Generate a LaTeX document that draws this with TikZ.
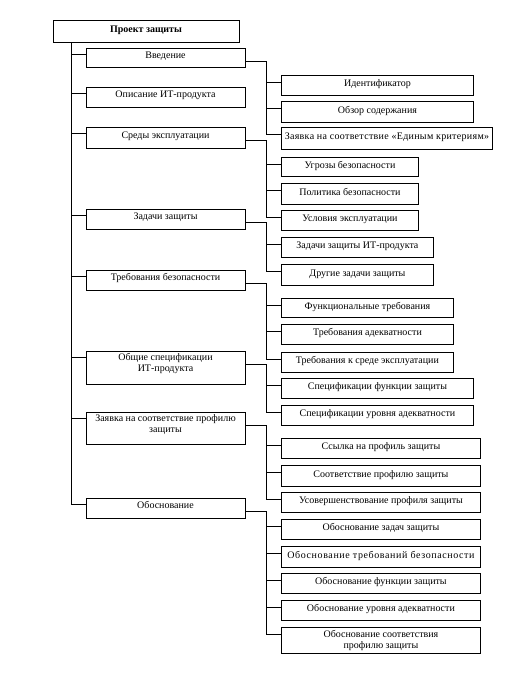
\documentclass[tikz,border=0pt]{standalone}
\usepackage{fontspec}
\setmainfont{Liberation Serif}
\usetikzlibrary{calc}
\tikzset{
  box/.style={draw, line width=0.9pt, inner sep=0pt, align=center,
    font=\fontsize{10}{11}\selectfont, text height=7pt},
  topbox/.style={box, font=\fontsize{10}{11}\selectfont\bfseries, text depth=4pt},
  lone/.style={box, minimum width=159pt, text depth=6pt},
  ltwo/.style={box, anchor=north west, text depth=4pt},
  twoline/.style={text height=18pt},
  wire/.style={line width=0.7pt}
}
\begin{document}
\begin{tikzpicture}[x=1pt,y=-1pt]
\useasboundingbox (0,0) rectangle (511,680);
% root
\node[topbox, minimum width=186pt, minimum height=22pt] (top) at (146,31) {Проект защиты};
% level 1
\node[lone, minimum height=19pt] (intro) at (165.5,57.5) {Введение};
\node[lone, minimum height=20pt] (desc) at (165.5,97) {Описание ИТ-продукта};
\node[lone, minimum height=21pt] (env) at (165.5,137.5) {Среды эксплуатации};
\node[lone, minimum height=20pt] (obj) at (165.5,219) {Задачи защиты};
\node[lone, minimum height=20pt] (req) at (165.5,280) {Требования безопасности};
\node[lone, twoline, minimum height=33pt, text depth=10pt] (spec) at (165.5,367.5) {Общие спецификации\\ИТ-продукта};
\node[lone, twoline, minimum height=32pt, text depth=9pt] (claim) at (165.5,428) {Заявка на соответствие профилю\\защиты};
\node[lone, minimum height=20pt] (just) at (165.5,508) {Обоснование};
% level 2
\node[ltwo, minimum width=192pt, minimum height=20pt] (c1) at (281,75) {Идентификатор};
\node[ltwo, minimum width=192pt, minimum height=21pt] (c2) at (281,101) {Обзор содержания};
\node[ltwo, minimum width=211pt, minimum height=22pt] (c3) at (281,127) {\addfontfeature{LetterSpace=3}Заявка на соответствие «Единым критериям»};
\node[ltwo, minimum width=137pt, minimum height=19pt] (c4) at (281,157) {Угрозы безопасности};
\node[ltwo, minimum width=137pt, minimum height=21pt] (c5) at (281,183) {Политика безопасности};
\node[ltwo, minimum width=137pt, minimum height=20pt] (c6) at (281,210) {Условия эксплуатации};
\node[ltwo, minimum width=152pt, minimum height=20pt] (c7) at (281,237) {Задачи защиты ИТ-продукта};
\node[ltwo, minimum width=152pt, minimum height=21pt] (c8) at (281,264) {Другие задачи защиты};
\node[ltwo, minimum width=172pt, minimum height=19pt] (c9) at (281,298) {Функциональные требования};
\node[ltwo, minimum width=172pt, minimum height=20pt] (c10) at (281,324) {Требования адекватности};
\node[ltwo, minimum width=172pt, minimum height=20pt] (c11) at (281,352) {Требования к среде эксплуатации};
\node[ltwo, minimum width=192pt, minimum height=20pt] (c12) at (281,378) {Спецификации функции защиты};
\node[ltwo, minimum width=192pt, minimum height=20pt] (c13) at (281,405) {Спецификации уровня адекватности};
\node[ltwo, minimum width=199pt, minimum height=20pt] (c14) at (281,438) {Ссылка на профиль защиты};
\node[ltwo, minimum width=199pt, minimum height=21pt] (c15) at (281,465) {Соответствие профилю защиты};
\node[ltwo, minimum width=199pt, minimum height=20pt] (c16) at (281,492) {Усовершенствование профиля защиты};
\node[ltwo, minimum width=199pt, minimum height=20pt] (c17) at (281,519) {Обоснование задач защиты};
\node[ltwo, minimum width=199pt, minimum height=21pt] (c18) at (281,546) {\addfontfeature{LetterSpace=6}Обоснование требований безопасности};
\node[ltwo, minimum width=199pt, minimum height=20pt] (c19) at (281,573) {Обоснование функции защиты};
\node[ltwo, minimum width=199pt, minimum height=20pt] (c20) at (281,600) {Обоснование уровня адекватности};
\node[ltwo, twoline, minimum width=199pt, minimum height=26pt, text depth=1pt] (c21) at (281,627) {Обоснование соответствия\\профилю защиты};
% trunk
\coordinate (t0) at ($(top.south west)+(19,0)$);
\foreach \n in {intro,desc,env,obj,req,spec,claim,just}{
  \coordinate (\n-in) at ($(\n.north west)+(0,6.5)$);
  \coordinate (\n-out) at ($(\n.north east)+(0,14)$);
}
\draw[wire] (t0) |- (just-in);
\foreach \n in {intro,desc,env,obj,req,spec,claim}
  \draw[wire] (t0 |- \n-in) -- (\n-in);
% level-2 inputs
\foreach \i in {1,...,21}
  \coordinate (c\i-in) at ($(c\i.north west)+(0,7)$);
\coordinate (bx) at (266,0);
% groups
\draw[wire] (intro-out) -| (bx |- c3-in);
\foreach \i in {1,2,3} \draw[wire] (bx |- c\i-in) -- (c\i-in);
\draw[wire] (env-out) -| (bx |- c6-in);
\foreach \i in {4,5,6} \draw[wire] (bx |- c\i-in) -- (c\i-in);
\draw[wire] (obj-out) -| (bx |- c8-in);
\foreach \i in {7,8} \draw[wire] (bx |- c\i-in) -- (c\i-in);
\draw[wire] (req-out) -| (bx |- c11-in);
\foreach \i in {9,10,11} \draw[wire] (bx |- c\i-in) -- (c\i-in);
\draw[wire] (spec-out) -| (bx |- c13-in);
\foreach \i in {12,13} \draw[wire] (bx |- c\i-in) -- (c\i-in);
\draw[wire] (claim-out) -| (bx |- c16-in);
\foreach \i in {14,15,16} \draw[wire] (bx |- c\i-in) -- (c\i-in);
\draw[wire] (just-out) -| (bx |- c21-in);
\foreach \i in {17,...,21} \draw[wire] (bx |- c\i-in) -- (c\i-in);
\end{tikzpicture}
\end{document}
